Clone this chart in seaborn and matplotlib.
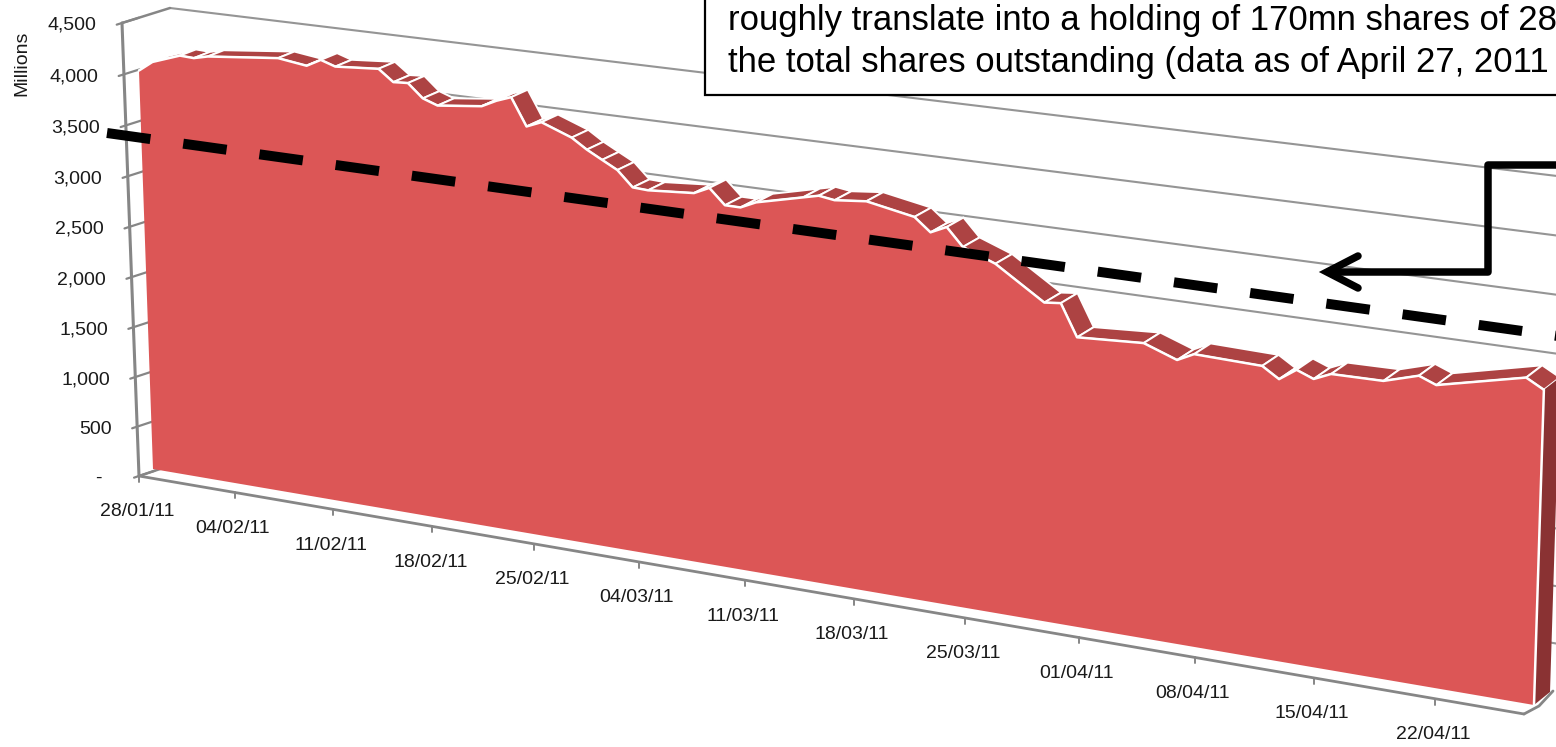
# 3D area chart of holding value, drawn by hand on a pixel axes
import numpy as np
import pandas as pd
import matplotlib
matplotlib.use('Agg')
import matplotlib.pyplot as plt
import seaborn as sns

sns.set_style("white")
plt.rcParams['font.family'] = ['Liberation Sans', 'DejaVu Sans']

# Data
start_date = pd.Timestamp('2011-01-28')
day_offsets = [0, 1, 3, 4, 5, 10, 12, 13, 14, 17, 18, 19, 20, 21, 24, 25, 26, 27, 28, 30, 31, 32, 33, 34,
               35, 38, 39, 40, 41, 42, 45, 46, 47, 49, 52, 53, 54, 55, 57, 60, 61, 62, 66, 68, 69, 73,
               74, 75, 76, 77, 80, 82, 83, 88, 89]
value_mn = [4003, 4105, 4202, 4195, 4228, 4299, 4260, 4334, 4287, 4318, 4208, 4217, 4088, 4037, 4085, 4155,
            4207, 3947, 4006, 3897, 3802, 3724, 3647, 3502, 3494, 3526, 3594, 3451, 3450, 3517, 3622, 3657,
            3635, 3664, 3579, 3457, 3526, 3363, 3250, 2957, 2973, 2682, 2716, 2606, 2681, 2663, 2566, 2672,
            2612, 2679, 2684, 2775, 2714, 2892, 2807]
y_ticks = [0, 500, 1000, 1500, 2000, 2500, 3000, 3500, 4000, 4500]
y_tick_labels = ['-', '500', '1,000', '1,500', '2,000', '2,500', '3,000', '3,500', '4,000', '4,500']
x_tick_days = [0, 7, 14, 21, 28, 35, 42, 49, 56, 63, 70, 77, 84]
x_tick_labels = ['28/01/11', '04/02/11', '11/02/11', '18/02/11', '25/02/11', '04/03/11', '11/03/11',
                 '18/03/11', '25/03/11', '01/04/11', '08/04/11', '15/04/11', '22/04/11']
box_lines = ['roughly translate into a holding of 170mn shares of 28',
             'the total shares outstanding (data as of April 27, 2011']

days = np.array([(start_date + pd.Timedelta(days=d) - start_date).days for d in day_offsets], dtype=float)
values = np.array(value_mn, dtype=float)
day_max = 89.0
value_max = 4500.0

# Plot settings
grid_color = '#959595'
axis_color = '#868686'
face_color = '#DC5656'
top_color = '#AD4343'
side_color = '#8A3233'
text_color = '#1a1a1a'
label_size = 14
box_size = 25


def make_plane(corners):
    # homography from (day, value) to pixels, corners: day0/v0, dayN/v0, dayN/vN, day0/vN
    A, b = [], []
    for (u, v), (x, y) in zip([(0, 0), (1, 0), (1, 1), (0, 1)], corners):
        A.append([u, v, 1, 0, 0, 0, -u*x, -v*x]); b.append(x)
        A.append([0, 0, 0, u, v, 1, -u*y, -v*y]); b.append(y)
    H = np.append(np.linalg.solve(np.array(A, float), np.array(b, float)), 1).reshape(3, 3)

    def project(day, value):
        day, value = np.broadcast_arrays(np.asarray(day, float), np.asarray(value, float))
        p = H @ np.vstack([day.ravel()/day_max, value.ravel()/value_max, np.ones(day.size)])
        return p[0]/p[2], p[1]/p[2]
    return project


axis_plane = make_plane([(139, 476), (1524, 714), (1540, 198), (122, 23)])
wall_plane = make_plane([(184, 461), (1570, 703), (1590, 180), (170, 8)])
face_plane = make_plane([(153, 469), (1534, 705), (1550, 195), (137.2, 20)])
rear_plane = make_plane([(169, 463), (1550, 692), (1566, 183), (153.2, 14)])

fig = plt.figure(figsize=(15.56, 7.47), dpi=100)
ax = fig.add_axes([0, 0, 1, 1])


def line(xs, ys, color, width, zorder, **kw):
    sns.lineplot(x=list(xs), y=list(ys), sort=False, estimator=None, errorbar=None, ax=ax, color=color,
                 linewidth=width, zorder=zorder, **kw)


# Back wall gridlines
for tick in y_ticks[1:]:
    gx, gy = wall_plane([0, day_max], [tick, tick])
    line(gx, gy, grid_color, 1.5, 1)

# Axis frame
fx, fy = axis_plane([0, 0], [0, value_max])
line(fx, fy, axis_color, 2.2, 1)
bx, by = axis_plane([0, day_max], [0, 0])
line(bx, by, axis_color, 2.0, 1)
tx, ty = wall_plane(0, value_max)
line([fx[1], tx[0]], [fy[1], ty[0]], axis_color, 1.8, 1)
wx, wy = wall_plane(0, 0)
line([fx[0], wx[0]], [fy[0], wy[0]], axis_color, 1.8, 1)
line([bx[1], bx[1]+15, bx[1]+29], [by[1], by[1]-8, by[1]-23], axis_color, 2.0, 1)

# Value ticks and labels
for tick, label in zip(y_ticks, y_tick_labels):
    ax_x, ax_y = axis_plane(0, tick)
    back_x, back_y = wall_plane(0, tick)
    dx, dy = (back_x - ax_x)[0], (back_y - ax_y)[0]
    line([ax_x[0]-0.11*dx, ax_x[0]+0.35*dx], [ax_y[0]-0.11*dy, ax_y[0]+0.35*dy], axis_color, 1.6, 1)
    shift = 37 if tick == 0 else 25.5
    ax.text(ax_x[0]-shift, ax_y[0]+2.5, label, ha='right', va='center', fontsize=label_size, color=text_color)

# Date ticks and labels
for day, label in zip(x_tick_days, x_tick_labels):
    ax_x, ax_y = axis_plane(day, 0)
    line([ax_x[0], ax_x[0]], [ax_y[0], ax_y[0]+6], axis_color, 1.4, 1)
    ax.text(ax_x[0]-2, ax_y[0]+36, label, ha='center', va='center', fontsize=label_size, color=text_color)

ax.text(22, 63, 'Millions', rotation=90, ha='center', va='center', fontsize=label_size, color=text_color)

# Area: top strip pieces first, front face covers whatever is behind it
front_x, front_y = face_plane(days, values)
rear_x, rear_y = rear_plane(days, values)
for i in range(len(days)-1):
    ax.fill([front_x[i], front_x[i+1], rear_x[i+1], rear_x[i]],
            [front_y[i], front_y[i+1], rear_y[i+1], rear_y[i]],
            facecolor=top_color, edgecolor='white', linewidth=1.4, zorder=2)

base_x, base_y = face_plane([day_max, 0], [0, 0])
rear_base_x, rear_base_y = rear_plane(day_max, 0)
ax.fill([front_x[-1], base_x[0], rear_base_x[0], rear_x[-1]],
        [front_y[-1], base_y[0], rear_base_y[0], rear_y[-1]], facecolor=side_color, edgecolor='none', zorder=2)

ax.fill(np.r_[front_x, base_x], np.r_[front_y, base_y], facecolor=face_color, edgecolor='none', zorder=3)
line(front_x, front_y, 'white', 1.8, 4)
line([front_x[-1], base_x[0]], [front_y[-1], base_y[0]], 'white', 1.8, 4)

# Hand drawn overlays
line([107, 1565], [133, 337], 'black', 7.2, 5, linestyle=(0, (4.38, 3.315)))

line([1570, 1488, 1488, 1332], [165, 165, 272, 272], 'black', 5.4, 6, solid_joinstyle='round', solid_capstyle='butt')
line([1358, 1327, 1358], [256, 272, 288], 'black', 5.4, 6, solid_joinstyle='miter', solid_capstyle='round')

ax.add_patch(plt.Rectangle((705.5, -20), 900, 114.5, facecolor='white', edgecolor='black', linewidth=1.6, zorder=7))
for text, baseline in zip(box_lines, [30, 72]):
    ax.text(728, baseline, text, ha='left', va='baseline', fontsize=box_size, color='black', zorder=8)

ax.set_xlim(0, 1556)
ax.set_ylim(747, 0)
ax.axis('off')

fig.savefig('out.png', dpi=100)
